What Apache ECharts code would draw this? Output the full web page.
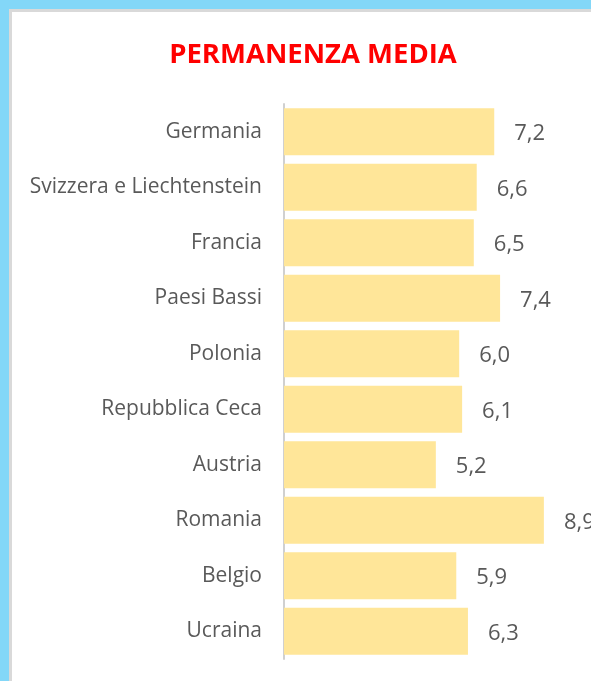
<!DOCTYPE html>
<html>
<head>
<meta charset="utf-8">
<script src="https://cdn.jsdelivr.net/npm/echarts@6/dist/echarts.min.js"></script>
<style>
  html, body { margin: 0; padding: 0; background: #83d7f8; width: 591px; height: 681px; overflow: hidden; }
  #frame { position: absolute; left: 9px; top: 9px; width: 582px; height: 672px; background: #d9d9d9; }
  #chart { position: absolute; left: 12px; top: 12px; width: 579px; height: 669px; background: #fff; }
</style>
</head>
<body>
<div id="frame"></div>
<div id="chart"></div>
<script>
// paesi e permanenza media (giorni)
const paesi = ['Germania', 'Svizzera e Liechtenstein', 'Francia', 'Paesi Bassi', 'Polonia',
  'Repubblica Ceca', 'Austria', 'Romania', 'Belgio', 'Ucraina'];
const permanenza = [7.2, 6.6, 6.5, 7.4, 6.0, 6.1, 5.2, 8.9, 5.9, 6.3];

const chart = echarts.init(document.getElementById('chart'));

chart.setOption({
  animation: false,
  title: {
    text: 'PERMANENZA MEDIA',
    left: 296,
    textAlign: 'center',
    top: 24,
    textStyle: { color: '#ff0000', fontSize: 27.5, fontWeight: 'bold', fontFamily: 'Open Sans' }
  },
  grid: { left: 272, top: 92, height: 555, width: 292 },
  xAxis: {
    type: 'value',
    min: 0,
    max: 10,
    show: false
  },
  yAxis: {
    type: 'category',
    data: paesi,
    inverse: true,
    axisLine: { show: true, lineStyle: { color: '#d0d0d0', width: 2 } },
    axisTick: { show: false },
    axisLabel: { color: '#595959', fontSize: 21, margin: 22, padding: [4, 0, 0, 0], fontFamily: 'Open Sans' }
  },
  series: [{
    type: 'bar',
    data: permanenza,
    barCategoryGap: '15%',
    itemStyle: { color: '#ffe699' },
    label: {
      show: true,
      position: 'right',
      distance: 20,
      offset: [0, 2],
      color: '#595959',
      fontSize: 22,
      fontFamily: 'Open Sans',
      formatter: p => p.value.toFixed(1).replace('.', ',')
    }
  }]
});
</script>
</body>
</html>
